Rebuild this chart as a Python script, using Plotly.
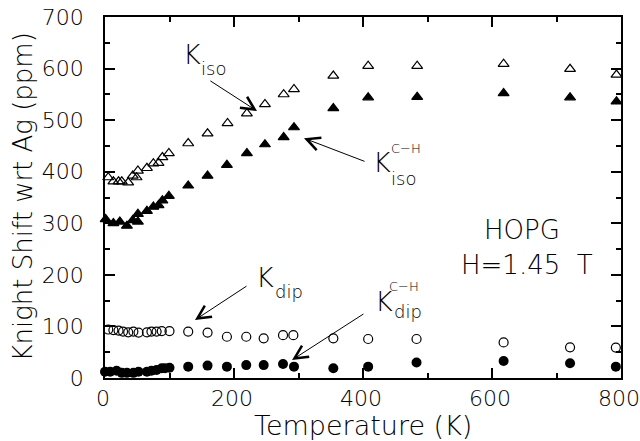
import plotly.graph_objects as go

# ---------------- data ----------------
T_iso = [5, 13, 21, 26, 36, 43, 49, 51, 65, 75, 83, 89, 99, 129, 159, 190, 220, 248,
         277, 293, 354, 408, 484, 618, 721, 793]
K_iso = [389, 381, 381, 381, 379, 392, 389, 402, 407, 416, 417, 428, 436, 455, 474, 494,
         513, 531, 550, 560, 586, 605, 605, 609, 599, 588]

T_iso_ch = [1, 13, 23, 34, 43, 51, 51, 65, 75, 83, 89, 99, 129, 159, 189, 220, 248,
            277, 293, 354, 408, 484, 618, 721, 793]
K_iso_ch = [308, 300, 303, 295, 306, 303, 318, 324, 332, 335, 344, 353, 373, 392, 413,
            436, 453, 467, 486, 523, 544, 545, 552, 544, 536]

T_dip = [5, 13, 21, 28, 36, 44, 52, 65, 72, 80, 88, 100, 129, 159, 189, 219, 246,
         276, 292, 354, 408, 483, 618, 721, 792]
K_dip = [94, 93, 92, 90, 88.5, 90, 88, 88.5, 90, 90, 91, 91, 90, 88, 80, 80, 77,
         83, 83, 77, 75.6, 75.6, 69, 59.5, 59]

T_dip_ch = [0, 8, 18, 26, 34, 44, 52, 65, 72, 80, 88, 93, 100, 129, 159, 189, 219, 246,
            276, 293, 354, 408, 483, 618, 721, 792]
K_dip_ch = [12, 12, 14, 10, 10, 10, 12, 12, 14, 15.5, 19, 19, 20, 22, 24, 22, 25, 25,
            27, 22, 19, 22, 30, 33, 28.5, 22]

x_title = "Temperature (K)"
y_title = "Knight Shift wrt Ag (ppm)"

# ---------------- figure ----------------
FONT = "DejaVu Sans"
W, H = 640, 441
L, R, T, B = 105, 19, 17, 63


def px(xp, yp):
    """pixel position -> paper coordinates"""
    return (xp - L) / (W - L - R), (H - B - yp) / (H - T - B)


fig = go.Figure()
mk = dict(size=9.5, line=dict(color="black", width=1.2))
fig.add_trace(go.Scatter(x=T_iso, y=K_iso, mode="markers", cliponaxis=False,
                         marker=dict(symbol="triangle-up-open", color="black", **mk)))
fig.add_trace(go.Scatter(x=T_iso_ch, y=K_iso_ch, mode="markers", cliponaxis=False,
                         marker=dict(symbol="triangle-up", color="black", **mk)))
fig.add_trace(go.Scatter(x=T_dip, y=K_dip, mode="markers", cliponaxis=False,
                         marker=dict(symbol="circle-open", color="black", size=9,
                                     line=dict(color="black", width=1.2))))
fig.add_trace(go.Scatter(x=T_dip_ch, y=K_dip_ch, mode="markers", cliponaxis=False,
                         marker=dict(symbol="circle", color="black", size=10,
                                     line=dict(color="black", width=0))))

axis_common = dict(showgrid=False, zeroline=False, showline=True, linecolor="black",
                   linewidth=1.5, mirror="allticks", ticks="inside", ticklen=10,
                   tickwidth=1.5, tickcolor="black", ticklabeloverflow="allow",
                   automargin=False,
                   tickfont=dict(family=FONT, size=22, color="black", weight=200))

fig.update_xaxes(range=[0, 800], tickvals=[0, 200, 400, 600, 800],
                 minor=dict(tickvals=[100, 300, 500, 700], ticks="inside", ticklen=5,
                            tickwidth=1.5, tickcolor="black"),
                 ticklabelstandoff=0, ticklabelshift=-2,
                 **axis_common)
fig.update_yaxes(range=[0, 700], tickvals=[0, 100, 200, 300, 400, 500, 600, 700],
                 minor=dict(tickvals=[50, 150, 250, 350, 450, 550, 650], ticks="inside",
                            ticklen=5, tickwidth=1.5, tickcolor="black"),
                 ticklabelstandoff=15,
                 **axis_common)

# axis titles
xx, yy = px(368, 425)
fig.add_annotation(x=0.5, y=yy, xref="paper", yref="paper", text=x_title, showarrow=False,
                   xanchor="center", yanchor="middle",
                   font=dict(family=FONT, size=27, color="black", weight=200))
xx, yy = px(22, 196)
fig.add_annotation(x=xx, y=0.5, xref="paper", yref="paper", text=y_title, showarrow=False,
                   xanchor="center", yanchor="middle", textangle=-90,
                   font=dict(family=FONT, size=26, color="black", weight=200))

# arrows (tip at data point, tail in data coords)
arrows = [
    (235.7, 517.7, 161, 578),
    (308.5, 465, 404.7, 419),
    (139.5, 112.5, 221.7, 180),
    (290, 35, 403, 126),
]
for xh, yh, xt, yt in arrows:
    fig.add_annotation(x=xh, y=yh, ax=xt, ay=yt, xref="x", yref="y", axref="x", ayref="y",
                       text="", showarrow=True, arrowhead=5, arrowsize=2.6, arrowwidth=1,
                       arrowcolor="black")

# labels: (text, pixel x left, pixel y center, size)
labels = [
    ("K", 181, 54, 27), ("iso", 199, 68, 18),
    ("K", 371, 162, 27), ("C\u2212H", 389, 148, 13), ("iso", 389, 178, 18),
    ("K", 254, 277, 27), ("dip", 273, 291, 18),
    ("K", 373, 301, 27), ("C\u2212H", 387, 286, 13), ("dip", 392, 311, 18),
]
for txt, xp, yp, sz in labels:
    xx, yy = px(xp, yp)
    fig.add_annotation(x=xx, y=yy, xref="paper", yref="paper", text=txt, showarrow=False,
                       xanchor="left", yanchor="middle",
                       font=dict(family=FONT, size=sz, color="black", weight=200))

for txt, xc, yc in [("HOPG", 522, 230), ("H=1.45  T", 527, 265)]:
    xx, yy = px(xc, yc)
    fig.add_annotation(x=xx, y=yy, xref="paper", yref="paper", text=txt, showarrow=False,
                       xanchor="center", yanchor="middle",
                       font=dict(family=FONT, size=26, color="black", weight=200))

fig.update_layout(width=W, height=H, margin=dict(l=L, r=R, t=T, b=B, autoexpand=False),
                  paper_bgcolor="white", plot_bgcolor="white", showlegend=False)

fig.write_html("out.html")
